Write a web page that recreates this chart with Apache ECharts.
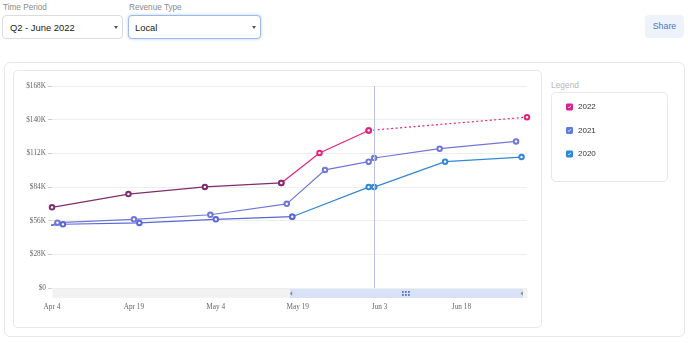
<!DOCTYPE html>
<html>
<head>
<meta charset="utf-8">
<script src="https://cdn.jsdelivr.net/npm/echarts@6/dist/echarts.min.js"></script>
<style>
  html, body { margin: 0; padding: 0; background: #fff; width: 688px; height: 343px; overflow: hidden; }
  body { position: relative; font-family: "Liberation Sans", Arial, sans-serif; }
  .lbl { position: absolute; font-size: 8.2px; color: #8a8a8a; }
  .sel { position: absolute; box-sizing: border-box; border: 1px solid #dcdcdc; border-radius: 4px; background: #fff; font-size: 9.4px; color: #1a1a1a; }
  .sel span { position: absolute; top: 6px; }
  .caret { position: absolute; top: 10px; width: 0; height: 0; border-left: 2.5px solid transparent; border-right: 2.5px solid transparent; border-top: 3px solid #555; }
  .card { position: absolute; box-sizing: border-box; border: 1px solid #e8e8e8; border-radius: 6px; background: #fff; }
  #share { position: absolute; left: 645px; top: 15px; width: 39px; height: 23px; border-radius: 4px; background: #eef3fb; color: #4a78c8; font-size: 8.8px; text-align: center; line-height: 23px; }
  #chart { position: absolute; left: 0; top: 0; width: 688px; height: 343px; }
</style>
</head>
<body>
<div class="lbl" style="left:3px;top:3px;">Time Period</div>
<div class="sel" style="left:2px;top:15px;width:121px;height:24px;"><span style="left:7px;">Q2 - June 2022</span><div class="caret" style="left:111px;"></div></div>
<div class="lbl" style="left:129px;top:3px;">Revenue Type</div>
<div class="sel" style="left:128px;top:15px;width:133px;height:24px;border-color:#9dbbe9;box-shadow:0 0 3px rgba(80,140,230,0.45);"><span style="left:6px;">Local</span><div class="caret" style="left:123px;"></div></div>
<div id="share">Share</div>

<div class="card" style="left:4px;top:62px;width:681px;height:275px;"></div>
<div class="card" style="left:13px;top:70px;width:529px;height:258px;border-radius:5px;"></div>
<div class="lbl" style="left:551px;top:80px;font-size:8.4px;color:#b8b8b8;">Legend</div>
<div class="card" style="left:551px;top:92px;width:117px;height:90px;border-radius:5px;"></div>

<div id="chart"></div>
<script>
// ---- data (values in $K) ----
const dates2022 = ['2022-04-04', '2022-04-18', '2022-05-02', '2022-05-16', '2022-05-23', '2022-06-01'];
const values2022 = [67.1, 78.1, 84.1, 87.4, 112.3, 131.0];
const forecastDates2022 = ['2022-06-01', '2022-06-30'];
const forecastValues2022 = [131.0, 142.1];
const dates2021 = ['2022-04-03', '2022-04-05', '2022-04-19', '2022-05-03', '2022-05-17', '2022-05-24', '2022-06-01', '2022-06-02', '2022-06-14', '2022-06-28'];
const values2021 = [50.5, 54.3, 57.1, 60.9, 70.0, 98.2, 105.1, 108.1, 115.9, 121.9];
const dates2020 = ['2022-04-03', '2022-04-06', '2022-04-20', '2022-05-04', '2022-05-18', '2022-06-01', '2022-06-02', '2022-06-15', '2022-06-29'];
const values2020 = [51.8, 53.0, 54.1, 57.1, 59.3, 83.9, 83.9, 105.1, 108.9];
const seriesNames = ['2022', '2021', '2020'];
const markerDate = '2022-06-02';
const axisStart = '2022-04-04';
const axisEnd = '2022-06-30';
const split2022 = 3;   // index where the 2022 line turns from dark to pink
const split2020 = 4;   // index where the 2020 line turns lighter blue
const months = ['Jan','Feb','Mar','Apr','May','Jun','Jul','Aug','Sep','Oct','Nov','Dec'];

const base = Date.parse(axisStart + 'T00:00:00Z');
const toDay = s => (Date.parse(s + 'T00:00:00Z') - base) / 86400000;
const pairs = (ds, vs) => ds.map((d, i) => [toDay(d), vs[i]]);
const all2022 = pairs(dates2022, values2022);
const all2020 = pairs(dates2020, values2020);

const serif = '"Liberation Serif", "Times New Roman", serif';
const checkIcon = 'path://M2,0 H8 A2,2 0 0 1 10,2 V8 A2,2 0 0 1 8,10 H2 A2,2 0 0 1 0,8 V2 A2,2 0 0 1 2,0 Z M2.5,5.2 L4.2,6.9 L7.6,3.5 L7,2.9 L4.2,5.7 L3.1,4.6 Z';

function lineSeries(name, data, color, extra) {
  return Object.assign({
    name: name, type: 'line', data: data,
    symbol: 'emptyCircle', symbolSize: 4.5,
    lineStyle: { width: 1.2, color: color },
    itemStyle: { color: color, borderWidth: 1 }
  }, extra || {});
}

const chart = echarts.init(document.getElementById('chart'), null, { renderer: 'canvas' });
chart.setOption({
  animation: false,
  backgroundColor: 'transparent',
  grid: { left: 52, right: 161, top: 86, bottom: 55 },
  legend: {
    orient: 'vertical', left: 561, top: 98, itemWidth: 7, itemHeight: 7, itemGap: 15.5,
    icon: checkIcon,
    textStyle: { fontSize: 8, color: '#333', fontFamily: '"Liberation Sans", Arial, sans-serif' },
    data: [
      { name: seriesNames[0], itemStyle: { color: '#d8208f' } },
      { name: seriesNames[1], itemStyle: { color: '#5b7be0' } },
      { name: seriesNames[2], itemStyle: { color: '#2a86d8' } }
    ]
  },
  xAxis: [{
    type: 'value', min: 0, max: toDay(axisEnd), interval: 15,
    axisLine: { show: false }, axisTick: { show: false }, splitLine: { show: false },
    axisLabel: {
      margin: 16, showMaxLabel: false, fontSize: 7.3, color: '#666', fontFamily: serif,
      formatter: v => { const d = new Date(base + v * 86400000); return months[d.getUTCMonth()] + ' ' + d.getUTCDate(); }
    }
  }, {
    type: 'value', min: 0, max: 100, show: false
  }],
  yAxis: {
    type: 'value', min: 0, max: 168, interval: 28,
    axisLine: { show: false },
    axisTick: { show: true, length: 4, lineStyle: { color: '#cfcfcf' } },
    splitLine: { lineStyle: { color: '#eeeeee' } },
    axisLabel: { margin: 6, fontSize: 7.3, color: '#666', fontFamily: serif, formatter: v => v === 0 ? '$0' : '$' + v + 'K' }
  },
  dataZoom: [{
    type: 'slider', xAxisIndex: 1, start: 50, end: 99,
    left: 52, right: 161, top: 289, height: 9,
    backgroundColor: '#f2f2f2', borderColor: 'transparent', borderRadius: 0,
    fillerColor: 'rgba(205,218,248,0.7)', showDataShadow: false, showDetail: false,
    brushSelect: false, realtime: false,
    handleIcon: 'path://M4,0 L0,4 L4,8 Z', handleSize: '50%',
    handleStyle: { color: '#888', borderWidth: 0 }
  }],
  graphic: [{
    type: 'group', left: 402, top: 291, silent: true, z: 100,
    children: [0, 1, 2].flatMap(i => [0, 1].map(j => ({
      type: 'circle', z: 100, shape: { cx: i * 3, cy: j * 3, r: 0.9 }, style: { fill: '#3a55b0' }
    })))
  }],
  series: [
    lineSeries(seriesNames[0], all2022.slice(split2022), '#e3247f'),
    lineSeries(seriesNames[0], all2022.slice(0, split2022 + 1), '#7f2d6f'),
    lineSeries(seriesNames[0], pairs(forecastDates2022, forecastValues2022), '#e3247f',
      { lineStyle: { width: 1.2, type: [2, 2.5], color: '#e3247f' } }),
    lineSeries(seriesNames[1], pairs(dates2021, values2021), '#7077d6', {
      markLine: {
        silent: true, symbol: 'none', label: { show: false },
        lineStyle: { color: '#b8c2e3', type: 'solid', width: 1 },
        data: [{ xAxis: toDay(markerDate) }]
      }
    }),
    lineSeries(seriesNames[2], all2020.slice(split2020), '#3288d4'),
    lineSeries(seriesNames[2], all2020.slice(0, split2020 + 1), '#5868d8')
  ]
});
</script>
</body>
</html>
